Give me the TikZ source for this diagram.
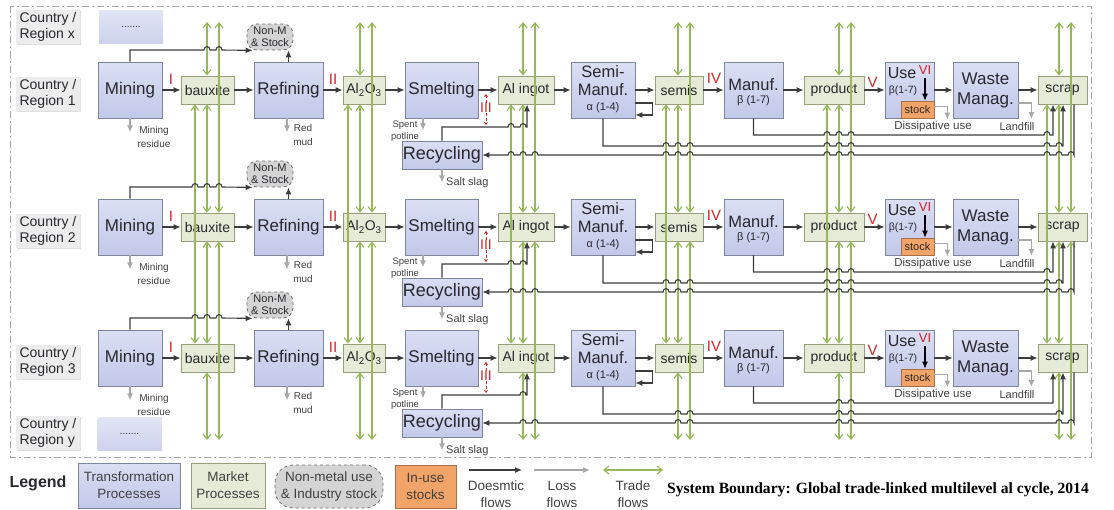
\documentclass[tikz,border=0pt]{standalone}
\usepackage{fontspec}
\setmainfont{Liberation Sans}
\newfontfamily\captionserif{Liberation Serif}
\usetikzlibrary{arrows.meta,shadows}

\definecolor{tptop}{RGB}{218,223,244}
\definecolor{tpbot}{RGB}{194,200,232}
\definecolor{tpline}{RGB}{128,133,158}
\definecolor{mkfill}{RGB}{229,235,214}
\definecolor{mkline}{RGB}{150,158,122}
\definecolor{nmfill}{RGB}{212,212,212}
\definecolor{nmline}{RGB}{110,110,110}
\definecolor{stockfill}{RGB}{242,163,103}
\definecolor{stockline}{RGB}{170,110,70}
\definecolor{flowc}{RGB}{60,60,60}
\definecolor{lossc}{RGB}{168,168,168}
\definecolor{tradec}{RGB}{150,184,86}
\definecolor{numred}{RGB}{205,35,40}
\definecolor{txt}{RGB}{40,40,45}
\definecolor{lgtxt}{RGB}{64,64,64}
\definecolor{labfill}{RGB}{236,236,236}
\definecolor{bndc}{RGB}{165,165,165}
\definecolor{dottop}{RGB}{226,229,245}
\definecolor{dotbot}{RGB}{205,210,236}

\begin{document}
\begin{tikzpicture}[x=1pt,y=-1pt,
  tproc/.style={draw=tpline,line width=0.8pt,top color=tptop,bottom color=tpbot,
    inner sep=0pt,text=txt,align=center},
  big/.style={font=\fontsize{17}{19}\selectfont},
  mkt/.style={draw=mkline,line width=0.9pt,fill=mkfill,inner sep=0pt,
    minimum height=28pt,text=txt,font=\fontsize{14}{16}\selectfont},
  nonmetal/.style={draw=nmline,dashed,line width=0.8pt,fill=nmfill,
    rounded corners=10pt,inner sep=0pt,text=txt,align=center},
  stockbox/.style={draw=stockline,line width=0.6pt,fill=stockfill,inner sep=0pt,text=txt},
  flow/.style={draw=flowc,line width=1.1pt,-{Latex[length=7pt,width=6pt]}},
  loss/.style={draw=lossc,line width=1.1pt,-{Latex[length=7pt,width=6pt]}},
  trade/.style={draw=tradec,line width=1.2pt,
    {Straight Barb[length=5pt,width=8pt]}-{Straight Barb[length=5pt,width=8pt]}},
  romnum/.style={text=numred,inner sep=0pt,font=\fontsize{15}{15}\selectfont},
  inbox/.style={text=txt,inner sep=0pt,align=center},
  losstxt/.style={text=lgtxt,inner sep=0pt,align=center,font=\fontsize{10}{14}\selectfont},
  reglab/.style={fill=labfill,minimum width=64pt,minimum height=34pt,inner sep=2pt,
    align=left,text=txt,font=\fontsize{14}{16}\selectfont,
    drop shadow={shadow xshift=1.2pt,shadow yshift=-1.2pt,fill=black!25,opacity=0.5}},
  dotbox/.style={top color=dottop,bottom color=dotbot,minimum width=64pt,
    minimum height=33pt,inner sep=0pt,text=txt,font=\fontsize{10}{10}\selectfont},
  boundary/.style={draw=bndc,line width=0.9pt,dash pattern=on 7pt off 3pt on 2pt off 3pt},
  legtxt/.style={text=lgtxt,inner sep=0pt,align=center,font=\fontsize{13.5}{17}\selectfont},
]
\useasboundingbox (0,0) rectangle (1114,509);

% system boundary
\draw[boundary] (10,6) rectangle (1091,457);

% region labels
\node[reglab] (regx) at (48,27) {Country /\\Region x};
\node[reglab] (reg1) at (48,94) {Country /\\Region 1};
\node[reglab] (reg2) at (48,231) {Country /\\Region 2};
\node[reglab] (reg3) at (48,362) {Country /\\Region 3};
\node[reglab] (regy) at (48,433) {Country /\\Region y};
\node[dotbox] (dotsx) at (131,26.5) {.......};
\node[dotbox] (dotsy) at (129.5,434) {.......};

% process chain of each region
\foreach \r/\Y in {1/90,2/227,3/358}{
  \node[tproc,big,minimum width=64pt,minimum height=56pt] (mining\r) at (130,\Y) {Mining};
  \node[mkt,minimum width=53pt] (baux\r) at (207.5,\Y) {bauxite};
  \node[tproc,big,minimum width=69pt,minimum height=56pt] (refin\r) at (288.5,\Y) {Refining};
  \node[mkt,minimum width=42pt] (alo\r) at (364,\Y) {Al\textsubscript{2}O\textsubscript{3}};
  \node[tproc,big,minimum width=73pt,minimum height=56pt] (smelt\r) at (441.5,\Y) {Smelting};
  \node[mkt,minimum width=56pt] (ingot\r) at (526,\Y) {Al ingot};
  \node[tproc,minimum width=64pt,minimum height=56pt] (semi\r) at (603,\Y) {};
  \node[mkt,minimum width=48pt] (semis\r) at (679,\Y) {semis};
  \node[tproc,minimum width=59pt,minimum height=56pt] (manuf\r) at (753.5,\Y) {};
  \node[mkt,minimum width=60pt] (prod\r) at (834,\Y) {product};
  \node[tproc,minimum width=49pt,minimum height=56pt] (use\r) at (909.5,\Y) {};
  \node[tproc,minimum width=65pt,minimum height=56pt,font=\fontsize{17}{20}\selectfont]
    (waste\r) at (985.5,\Y) {Waste\\Manag.};
  \node[mkt,minimum width=49pt] (scrap\r) at (1062.5,\Y) {scrap};
  \node[tproc,font=\fontsize{18}{18}\selectfont,minimum width=80pt,minimum height=28pt]
    (recyc\r) at (442,\Y+65) {Recycling};
  \node[nonmetal,minimum width=46pt,minimum height=26pt,font=\fontsize{11}{12}\selectfont]
    (nonm\r) at (270,\Y-53) {Non-M\\\& Stock};
  \node[stockbox,minimum width=33pt,minimum height=17pt,font=\fontsize{11}{11}\selectfont]
    (stock\r) at (917.5,\Y+19.5) {stock};

  % texts inside the composite boxes
  \node[inbox,font=\fontsize{16.5}{18}\selectfont] (semiT\r) at (603,\Y-9) {Semi-\\Manuf.};
  \node[inbox,font=\fontsize{11}{11}\selectfont] (semiA\r) at (603,\Y+18) {α (1-4)};
  \node[inbox,font=\fontsize{16.5}{18}\selectfont] (manufT\r) at (753.5,\Y-5) {Manuf.};
  \node[inbox,font=\fontsize{11}{11}\selectfont] (manufB\r) at (753.5,\Y+11) {β (1-7)};
  \node[inbox,font=\fontsize{16}{16}\selectfont] (useT\r) at (902,\Y-17) {Use};
  \node[romnum,font=\fontsize{13}{13}\selectfont] (vi\r) at (925,\Y-20) {VI};
  \node[inbox,font=\fontsize{10.5}{11}\selectfont] (useB\r) at (903,\Y+1) {β(1-7)};

  % stage numbers
  \node[romnum] (nI\r) at (171,\Y-11) {I};
  \node[romnum] (nII\r) at (333,\Y-11) {II};
  \node[romnum] (nIV\r) at (714,\Y-12) {IV};
  \node[romnum] (nV\r) at (872.5,\Y-8) {V};
  \node[romnum,font=\fontsize{14}{14}\selectfont] (iii\r) at (486,\Y+18) {III};
}

% trade links between the regional markets
\foreach \m/\xa/\xb/\xc in {baux/195/207/219, alo/348/360/372, ingot/511/523/535,
    semis/666/678/690, prod/827/839/851, scrap/1047/1059/1071}{
  \coordinate (ta\m) at (\xa,0);
  \coordinate (tb\m) at (\xb,22);
  \coordinate (tc\m) at (\xc,22);
  \coordinate (bb\m) at (\xb,440);
  \coordinate (bc\m) at (\xc,440);
  \draw[trade] (tb\m) -- (\m1.north -| tb\m);
  \draw[trade] (\m1.south -| tb\m) -- (\m2.north -| tb\m);
  \draw[trade] (\m2.south -| tb\m) -- (\m3.north -| tb\m);
  \draw[trade] (\m3.south -| tb\m) -- (bb\m);
  \draw[trade] (tc\m) -- (\m2.north -| tc\m);
  \draw[trade] (\m2.south -| tc\m) -- (bc\m);
  \draw[trade] (\m1.south -| ta\m) -- (\m3.north -| ta\m);
}

% domestic and loss flows of each region
\foreach \r/\Y in {1/90,2/227,3/358}{
  \ifcase\r\or
    \def\hNM{207,219}\def\hRC{511,523}\def\hA{827,839,851,1047}%
    \def\hB{666,678,690,827,839,851,1047,1059}%
    \def\hC{1071,1059,1047,851,839,827,690,678,666,535,523,511}%
  \or
    \def\hNM{195,207,219}\def\hRC{511,523}\def\hA{827,839,851,1047}%
    \def\hB{666,678,690,827,839,851,1047,1059}%
    \def\hC{1071,1059,1047,851,839,827,690,678,666,535,523,511}%
  \or
    \def\hNM{195,207,219}\def\hRC{523}\def\hA{839,851}%
    \def\hB{678,690,839,851,1059}%
    \def\hC{1071,1059,851,839,690,678,535,523}%
  \fi
  \pgfmathsetmacro\yN{\Y-40}
  \pgfmathsetmacro\yR{\Y+37}
  \pgfmathsetmacro\yA{\Y+45}
  \pgfmathsetmacro\yB{\Y+56}
  \pgfmathsetmacro\yC{\Y+65}

  \draw[flow] (mining\r) -- (baux\r);
  \draw[flow] (baux\r) -- (refin\r);
  \draw[flow] (refin\r) -- (alo\r);
  \draw[flow] (alo\r) -- (smelt\r);
  \draw[flow] (smelt\r) -- (ingot\r);
  \draw[flow] (ingot\r) -- (semi\r);
  \draw[flow] (semi\r) -- (semis\r);
  \draw[flow] (semis\r) -- (manuf\r);
  \draw[flow] (manuf\r) -- (prod\r);
  \draw[flow] (prod\r) -- (use\r);
  \draw[flow] (use\r) -- (waste\r);
  \draw[flow] (waste\r) -- (scrap\r);
  \draw[flow] ([yshift=-13pt]semi\r.east) -- ++(17,0) -- ++(0,12) -- ([yshift=-25pt]semi\r.east);
  \draw[flow,draw=black] ([yshift=-3pt]vi\r.south) -- (vi\r.south |- stock\r.north);

  % to non-metal use and industry stock
  \draw[flow] (mining\r.north) -- (130,\yN)
    foreach \h in \hNM {-- (\h-3,\yN) .. controls (\h-3,\yN-4.5) and (\h+3,\yN-4.5) .. (\h+3,\yN)}
    -- ([xshift=6pt]nonm\r.south west);
  \draw[flow] (refin\r.north) -- (refin\r.north |- nonm\r.south);

  % recycling back to ingot
  \draw[flow] (recyc\r.north) -- (442,\yR)
    foreach \h in \hRC {-- (\h-3,\yR) .. controls (\h-3,\yR-4.5) and (\h+3,\yR-4.5) .. (\h+3,\yR)}
    -- (527,\yR) -- ([xshift=1pt]ingot\r.south);

  % new scrap and old scrap returns
  \draw[flow] (manuf\r.south) -- (753.5,\yA)
    foreach \h in \hA {-- (\h-3,\yA) .. controls (\h-3,\yA-4.5) and (\h+3,\yA-4.5) .. (\h+3,\yA)}
    -- (1053,\yA) -- ([xshift=-9.5pt]scrap\r.south);
  \draw[flow] (semi\r.south) -- (603,\yB)
    foreach \h in \hB {-- (\h-3,\yB) .. controls (\h-3,\yB-4.5) and (\h+3,\yB-4.5) .. (\h+3,\yB)}
    -- (1063,\yB) -- ([xshift=0.5pt]scrap\r.south);
  \draw[flow] ([xshift=11.5pt]scrap\r.south) -- (1074,\yC)
    foreach \h in \hC {-- (\h+3,\yC) .. controls (\h+3,\yC-4.5) and (\h-3,\yC-4.5) .. (\h-3,\yC)}
    -- (recyc\r.east);

  % III marker
  \draw[numred,densely dashed,line width=0.7pt,-{Stealth[length=3pt,width=4pt]}]
    (iii\r.north) -- ++(0,-9);
  \draw[numred,densely dashed,line width=0.7pt,-{Stealth[length=3pt,width=4pt]}]
    (iii\r.south) -- ++(0,12);

  % losses
  \draw[loss] (mining\r.south) -- ++(0,14);
  \node[losstxt] (mres\r) at (154,\Y+47) {Mining\\residue};
  \draw[loss] ([xshift=-1.5pt]refin\r.south) -- ++(0,14);
  \node[losstxt] (rmud\r) at (303,\Y+45) {Red\\mud};
  \draw[loss] ([xshift=-18.5pt]smelt\r.south) -- ++(0,12);
  \node[losstxt,font=\fontsize{9.5}{12}\selectfont] (spl\r) at (405,\Y+41) {Spent\\potline};
  \draw[loss] (recyc\r.south) -- ++(0,13);
  \node[losstxt,font=\fontsize{11}{11}\selectfont,anchor=west] (slag\r) at (446,\Y+93) {Salt slag};
  \draw[loss] ([yshift=3pt]stock\r.east) -- ++(13,0) -- ++(0,13);
  \node[losstxt,font=\fontsize{11.5}{11.5}\selectfont] (diss\r) at (933,\Y+37) {Dissipative use};
  \draw[loss] ([yshift=-13pt]waste\r.east) -- ++(13,0) -- ++(0,16);
  \node[losstxt,font=\fontsize{11}{11}\selectfont] (landf\r) at (1017,\Y+37) {Landfill};
}

% legend
\node[text=txt,inner sep=0pt,font=\bfseries\fontsize{16}{16}\selectfont] (legend) at (38,483) {Legend};
\node[tproc,minimum width=102pt,minimum height=45pt,font=\fontsize{13.5}{17}\selectfont,text=lgtxt]
  (lgT) at (129,485.5) {Transformation\\Processes};
\node[draw=mkline,line width=0.9pt,fill=mkfill,minimum width=74pt,minimum height=45pt,
  inner sep=0pt,legtxt] (lgM) at (228,485.5) {Market\\Processes};
\node[nonmetal,minimum width=108pt,minimum height=43pt,rounded corners=18pt,legtxt]
  (lgN) at (329,486.5) {Non-metal use\\\& Industry stock};
\node[stockbox,minimum width=61pt,minimum height=43pt,legtxt] (lgS) at (425.5,486.5) {In-use\\stocks};
\coordinate (ldA) at (469,470); \coordinate (ldB) at (522,470);
\coordinate (llA) at (534,470); \coordinate (llB) at (590,470);
\coordinate (ltA) at (603,470); \coordinate (ltB) at (663,470);
\draw[flow] (ldA) -- (ldB);
\draw[loss] (llA) -- (llB);
\draw[trade] (ltA) -- (ltB);
\node[legtxt] (ldT) at (496,494) {Doesmtic\\flows};
\node[legtxt] (llT) at (562,494) {Loss\\flows};
\node[legtxt] (ltT) at (633,494) {Trade\\flows};
\node[anchor=west,inner sep=0pt,text=black,font=\captionserif\bfseries\fontsize{15.6}{17}\selectfont]
  (sysb) at (667,490) {System Boundary: Global trade-linked multilevel al cycle, 2014};
\end{tikzpicture}
\end{document}
